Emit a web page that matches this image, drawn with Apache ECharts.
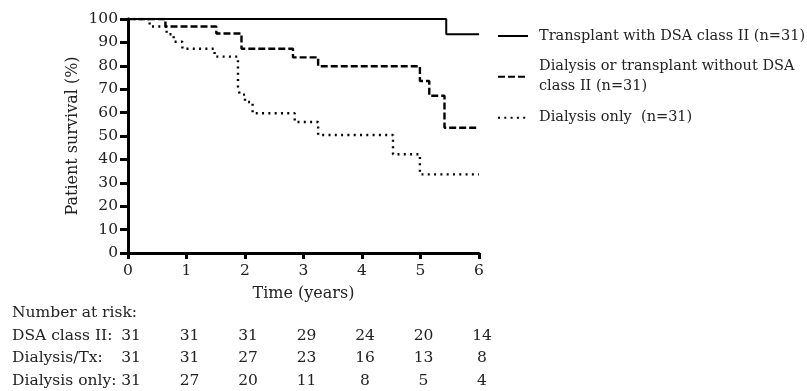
<!DOCTYPE html>
<html><head><meta charset="utf-8">
<script src="https://cdn.jsdelivr.net/npm/echarts@6/dist/echarts.min.js"></script>
<style>html,body{margin:0;padding:0;background:#fff}#c{width:807px;height:391px}</style>
</head><body><div id="c"></div>
<script>
// Kaplan-Meier step data [time (years), survival (%)]
var dsaTimes   = [0, 5.44, 6];
var dsaSurv    = [100, 93.5, 93.5];
var txTimes    = [0, 0.64, 1.51, 1.94, 2.82, 3.25, 4.99, 5.15, 5.41, 6];
var txSurv     = [100, 96.8, 93.8, 87.3, 83.6, 79.8, 73.5, 67.2, 53.5, 53.5];
var onlyTimes  = [0, 0.37, 0.66, 0.78, 0.93, 1.48, 1.88, 1.91, 2.0, 2.13, 2.85, 3.25, 4.53, 4.99, 6];
var onlySurv   = [100, 96.8, 93.5, 90.3, 87.3, 83.9, 71.0, 67.7, 64.5, 59.7, 56.0, 50.4, 42.2, 33.6, 33.6];

var seriesNames = ['Transplant with DSA class II (n=31)', 'Dialysis or transplant without DSA class II (n=31)', 'Dialysis only  (n=31)'];
var legendLabels = ['Transplant with DSA class II (n=31)', 'Dialysis or transplant without DSA\nclass II (n=31)', 'Dialysis only  (n=31)'];

var yTicks = [0, 10, 20, 30, 40, 50, 60, 70, 80, 90, 100];
var xTicks = [0, 1, 2, 3, 4, 5, 6];

var riskTitle = 'Number at risk:';
var riskRowLabels = ['DSA class II:', 'Dialysis/Tx:', 'Dialysis only:'];
var riskTimes = [0, 1, 2, 3, 4, 5, 6];
var riskDSA   = [31, 31, 31, 29, 24, 20, 14];
var riskTx    = [31, 31, 27, 23, 16, 13, 8];
var riskOnly  = [31, 27, 20, 11, 8, 5, 4];

function pairs(t, s) { return t.map(function (v, i) { return [v, s[i]]; }); }

var FONT = 'DejaVu Serif';
var TXT = '#222';
var chart = echarts.init(document.getElementById('c'));

function mkLegend(i, top) {
  return {
    data: [seriesNames[i]], left: 497, top: top, orient: 'vertical', padding: 0,
    itemWidth: 30, itemHeight: 14, selectedMode: false,
    itemStyle: { color: 'transparent', borderColor: 'transparent', borderWidth: 0, opacity: 0 },
    formatter: function () { return legendLabels[i]; },
    textStyle: { fontFamily: FONT, fontSize: 14.5, color: TXT, lineHeight: 20, padding: [0, 0, 0, 6] }
  };
}

var option = {
  animation: false,
  backgroundColor: '#fff',
  grid: { left: 128, right: 328, top: 19, bottom: 138 },
  legend: [mkLegend(0, 26), mkLegend(1, 56.7), mkLegend(2, 107.7)],
  xAxis: {
    type: 'value', min: 0, max: 6, interval: 1,
    name: 'Time (years)', nameLocation: 'middle', nameGap: 33,
    nameTextStyle: { fontFamily: FONT, fontSize: 16, color: TXT },
    axisLine: { lineStyle: { color: '#000', width: 3 } },
    axisTick: { length: 6, lineStyle: { color: '#000', width: 3 } },
    axisLabel: { fontFamily: FONT, fontSize: 15.5, color: TXT, margin: 10,
      formatter: function (v) { return xTicks.indexOf(v) >= 0 ? String(v) : ''; } },
    splitLine: { show: false }
  },
  yAxis: {
    type: 'value', min: 0, max: 100, interval: 10,
    name: 'Patient survival (%)', nameLocation: 'middle', nameGap: 47, nameRotate: 90,
    nameTextStyle: { fontFamily: FONT, fontSize: 16, color: TXT },
    axisLine: { show: true, lineStyle: { color: '#000', width: 3 } },
    axisTick: { show: true, length: 8, lineStyle: { color: '#000', width: 3 } },
    axisLabel: { fontFamily: FONT, fontSize: 15.5, color: TXT, margin: 10,
      formatter: function (v) { return yTicks.indexOf(v) >= 0 ? String(v) : ''; } },
    splitLine: { show: false }
  },
  series: [
    { name: seriesNames[0], type: 'line', step: 'end', symbol: 'none', z: 3,
      data: pairs(dsaTimes, dsaSurv), lineStyle: { color: '#000', width: 2, type: 'solid' }, itemStyle: { color: '#000' } },
    { name: seriesNames[1], type: 'line', step: 'end', symbol: 'none', z: 2,
      data: pairs(txTimes, txSurv), lineStyle: { color: '#000', width: 2.4, type: [7, 3] }, itemStyle: { color: '#000' } },
    { name: seriesNames[2], type: 'line', step: 'end', symbol: 'none', z: 1,
      data: pairs(onlyTimes, onlySurv), lineStyle: { color: '#000', width: 2.4, type: [2, 4.3] }, itemStyle: { color: '#000' } }
  ]
};
chart.setOption(option);

// Number-at-risk table positioned with the x axis scale
var rows = [riskDSA, riskTx, riskOnly];
var rowY = [336, 358, 381];
var F = '15.5px "' + FONT + '"';
var g = [{ type: 'text', x: 12, y: 313, style: { text: riskTitle, font: F, fill: TXT, verticalAlign: 'middle' } }];
rows.forEach(function (r, ri) {
  g.push({ type: 'text', x: 12, y: rowY[ri], style: { text: riskRowLabels[ri], font: F, fill: TXT, verticalAlign: 'middle' } });
  r.forEach(function (n, ci) {
    var px = chart.convertToPixel({ xAxisIndex: 0 }, riskTimes[ci]) + 3;
    g.push({ type: 'text', x: px, y: rowY[ri], style: { text: String(n), font: F, fill: TXT, align: 'center', verticalAlign: 'middle' } });
  });
});
chart.setOption({ graphic: g });
</script></body></html>
